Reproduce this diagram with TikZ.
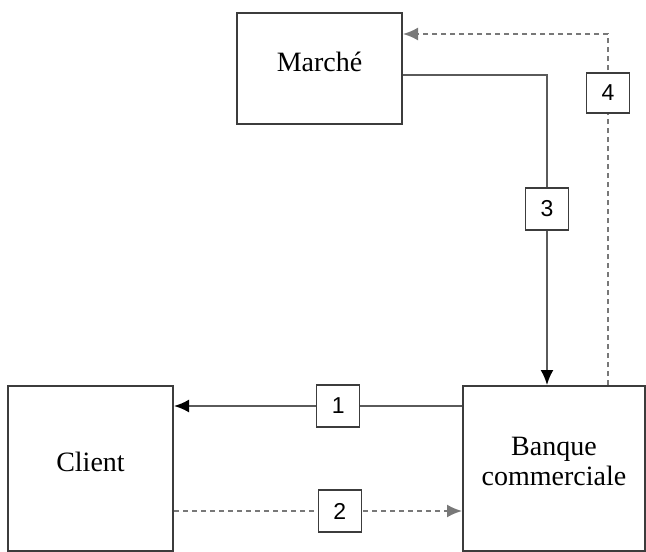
\documentclass[tikz,border=0pt]{standalone}
\usepackage{fontspec}
\setmainfont{Liberation Serif}
\newfontfamily\digitfont{Liberation Sans}
\usetikzlibrary{arrows.meta,calc}
\definecolor{boxgray}{HTML}{3C3C3C}
\definecolor{linegray}{HTML}{5A5A5A}
\definecolor{dashgray}{HTML}{787878}
\tikzset{
  entity/.style={draw=boxgray, line width=2pt, inner sep=0pt, align=center,
    font=\fontsize{28}{30}\selectfont, text depth=14pt},
  numbox/.style={draw=boxgray, solid, line width=1.6pt, fill=white, inner sep=0pt,
    minimum width=43pt, minimum height=42pt, font=\digitfont\fontsize{23}{23}\selectfont},
  solidflow/.style={draw=linegray, line width=2pt,
    -{Latex[length=15pt,width=13pt,color=black]}},
  dashflow/.style={draw=dashgray, line width=2pt, dash pattern=on 5pt off 4pt,
    -{Latex[length=15pt,width=13pt,color=dashgray]}}
}
\begin{document}
\begin{tikzpicture}[x=1pt,y=-1pt]
\useasboundingbox[fill=white] (0,0) rectangle (646,552);
\node[entity, minimum width=165pt, minimum height=111pt] (marche) at (319.5,68.5) {Marché};
\node[entity, minimum width=165pt, minimum height=165pt] (client) at (90.5,468.5) {Client};
\node[entity, minimum width=182pt, minimum height=165pt] (bank) at (554,468.5) {Banque\\commerciale};
% 1
\draw[solidflow] ($(bank.west)+(0,-62.5)$) -- node[numbox, pos=0.43] (n1) {1} ($(client.east)+(0,-62.5)$);
% 2
\draw[dashflow] ($(client.east)+(0,42.5)$) -- node[numbox, pos=0.576] (n2) {2} ($(bank.west)+(0,42.5)$);
% 3
\draw[solidflow] ($(marche.east)+(0,6.5)$) -| node[numbox, pos=0.716] (n3) {3} ($(bank.north)+(-7,0)$);
% 4
\draw[dashflow] ($(bank.north)+(54,0)$) |- node[numbox, pos=0.416, minimum height=40pt] (n4) {4} ($(marche.east)+(0,-34.5)$);
\end{tikzpicture}
\end{document}
